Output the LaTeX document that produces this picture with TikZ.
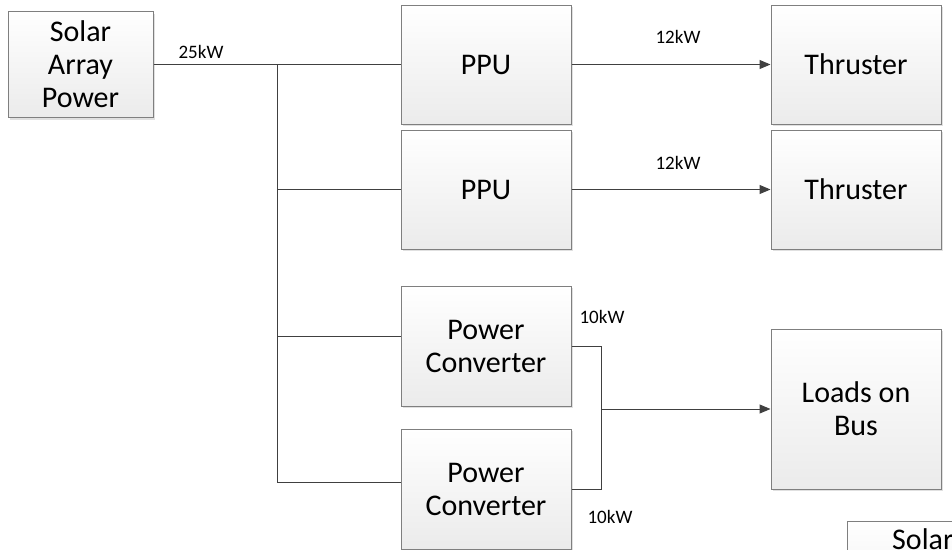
\documentclass[tikz,border=0pt]{standalone}
\usepackage{fontspec}
\setmainfont{Carlito}
\usetikzlibrary{arrows.meta,shadows}
\definecolor{wirec}{HTML}{404040}
\definecolor{boxline}{HTML}{7F7F7F}
\definecolor{boxbot}{HTML}{EBEBEB}
\tikzset{
  blk/.style={draw=boxline, line width=1pt, top color=white, bottom color=boxbot,
    inner sep=0pt, align=center, font=\fontsize{30}{33}\selectfont,
    drop shadow={shadow xshift=2pt, shadow yshift=-2pt, fill=black!12, opacity=1}},
  wire/.style={draw=wirec, line width=1pt},
  arr/.style={wire, -{Triangle[length=11pt,width=9pt]}},
  lbl/.style={font=\fontsize{19}{22}\selectfont, inner sep=0pt}
}
\begin{document}
\begin{tikzpicture}[x=1pt,y=-1pt]
\useasboundingbox (0,0) rectangle (952,549);
\begin{scope}
\clip (0,0) rectangle (952,549);
% boxes
\node[blk, minimum width=145pt, minimum height=106pt] (solar) at (80.5,64.5) {Solar\\Array\\Power};
\node[blk, minimum width=170pt, minimum height=119pt] (ppu1) at (486,64.5) {PPU};
\node[blk, minimum width=170pt, minimum height=119pt] (ppu2) at (486,189.5) {PPU};
\node[blk, minimum width=170pt, minimum height=119pt] (thr1) at (856,64.5) {Thruster};
\node[blk, minimum width=170pt, minimum height=119pt] (thr2) at (856,189.5) {Thruster};
\node[blk, minimum width=170pt, minimum height=120pt] (pc1) at (486,346) {Power\\Converter};
\node[blk, minimum width=170pt, minimum height=120pt] (pc2) at (486,489) {Power\\Converter};
\node[blk, minimum width=170pt, minimum height=160pt] (loads) at (856,409) {Loads on\\Bus};
\node[blk, minimum width=150pt, minimum height=106pt, anchor=north west] (solartwo) at (847,521) {};
\node[font=\fontsize{30}{33}\selectfont, inner sep=0pt, anchor=west] (solartwotxt) at (892,539) {Solar};
% bus
\coordinate (bus) at (277,64.5);
\coordinate (pcone) at ([yshift=10pt]pc1.west);
\coordinate (pctwo) at ([yshift=7pt]pc2.west);
\draw[wire] (solar.east) -- (ppu1.west);
\draw[wire] (bus) |- (pctwo);
\draw[wire] (bus |- ppu2.west) -- (ppu2.west);
\draw[wire] (bus |- pcone) -- (pcone);
% PPU to thrusters
\draw[arr] (ppu1.east) -- (thr1.west);
\draw[arr] (ppu2.east) -- (thr2.west);
% converters to loads
\coordinate (jx) at (601,0);
\draw[wire] (pc1.east) -| (jx |- pc2.east) -- (pc2.east);
\draw[arr] (jx |- loads.west) -- (loads.west);
% labels
\node[lbl] (l25) at (201,52) {25kW};
\node[lbl] (l12a) at (678,37) {12kW};
\node[lbl] (l12b) at (678,163) {12kW};
\node[lbl] (l10a) at (602,317) {10kW};
\node[lbl] (l10b) at (610,517) {10kW};
\end{scope}
\end{tikzpicture}
\end{document}
